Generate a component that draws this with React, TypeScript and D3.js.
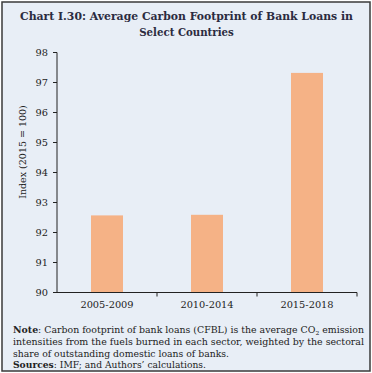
import React from 'react';
import * as d3 from 'd3';

const categories = ['2005-2009', '2010-2014', '2015-2018'];
const values = [92.57, 92.59, 97.32];
const yTicks = [90, 91, 92, 93, 94, 95, 96, 97, 98];

const titleLines = [
  'Chart I.30: Average Carbon Footprint of Bank Loans in',
  'Select Countries',
];

const W = 372;
const H = 373;
const font = '"DejaVu Serif", serif';

export default function App() {
  const x = d3.scaleBand().domain(categories).range([57, 357]).paddingInner(0.68).paddingOuter(0.34);
  const y = d3.scaleLinear().domain([90, 98]).range([292.5, 52.5]);
  const step = x.step();
  const boundaries = [57, 57 + step, 57 + 2 * step, 357];

  return (
    <div style={{ position: 'absolute', left: 0, top: 0 }}>
      <svg width={W} height={H} style={{ display: 'block' }}>
        <rect x={0} y={0} width={W} height={H} fill="#ffffff" />
        <rect x={2} y={2} width={368} height={369} fill="#e8eef6" stroke="#3a3a3a" strokeWidth={1.5} />

        {titleLines.map((t, i) => (
          <text key={i} x={186.5} y={20 + i * 16} textAnchor="middle" fontFamily={font}
            fontWeight="bold" fontSize={10.2} fill="#2b2b40"
            textLength={i === 0 ? 333 : undefined} lengthAdjust="spacingAndGlyphs">{t}</text>
        ))}

        {categories.map((c, i) => (
          <rect key={c} x={x(c)} y={y(values[i])} width={x.bandwidth()}
            height={y(90) - y(values[i])} fill="#f5b286" />
        ))}

        {/* y axis */}
        <line x1={57} x2={57} y1={y(98)} y2={y(90)} stroke="#222" strokeWidth={1} />
        {yTicks.map(t => (
          <g key={t}>
            <line x1={53} x2={57} y1={y(t)} y2={y(t)} stroke="#222" strokeWidth={1} />
            <text x={48} y={y(t) + 3.5} textAnchor="end" fontFamily={font} fontSize={9.8} fill="#222">{t}</text>
          </g>
        ))}
        <text transform="translate(26,152) rotate(-90)" textAnchor="middle" fontFamily={font}
          fontSize={9.5} fill="#222">Index (2015 = 100)</text>

        {/* x axis */}
        <line x1={53} x2={357} y1={y(90)} y2={y(90)} stroke="#222" strokeWidth={1} />
        {boundaries.slice(1).map((b, i) => (
          <line key={i} x1={b} x2={b} y1={y(90)} y2={y(90) + 4} stroke="#222" strokeWidth={1} />
        ))}
        {categories.map(c => (
          <text key={c} x={(x(c) as number) + x.bandwidth() / 2} y={308} textAnchor="middle"
            fontFamily={font} fontSize={9.8} fill="#222">{c}</text>
        ))}

        {/* note */}
        <text x={13} y={332.5} fontFamily={font} fontSize={8.6} fill="#222" textLength={351} lengthAdjust="spacingAndGlyphs">
          <tspan fontWeight="bold">Note</tspan>: Carbon footprint of bank loans (CFBL) is the average CO<tspan fontSize={5.5} dy={2}>2</tspan><tspan dy={-2}> emission</tspan>
        </text>
        <text x={13} y={344.5} fontFamily={font} fontSize={8.6} fill="#222" textLength={351} lengthAdjust="spacingAndGlyphs">
          intensities from the fuels burned in each sector, weighted by the sectoral
        </text>
        <text x={13} y={356.5} fontFamily={font} fontSize={8.6} fill="#222" textLength={216} lengthAdjust="spacingAndGlyphs">
          share of outstanding domestic loans of banks.
        </text>
        <text x={13} y={367.5} fontFamily={font} fontSize={8.6} fill="#222" textLength={193} lengthAdjust="spacingAndGlyphs">
          <tspan fontWeight="bold">Sources</tspan>: IMF; and Authors’ calculations.
        </text>
      </svg>
    </div>
  );
}
